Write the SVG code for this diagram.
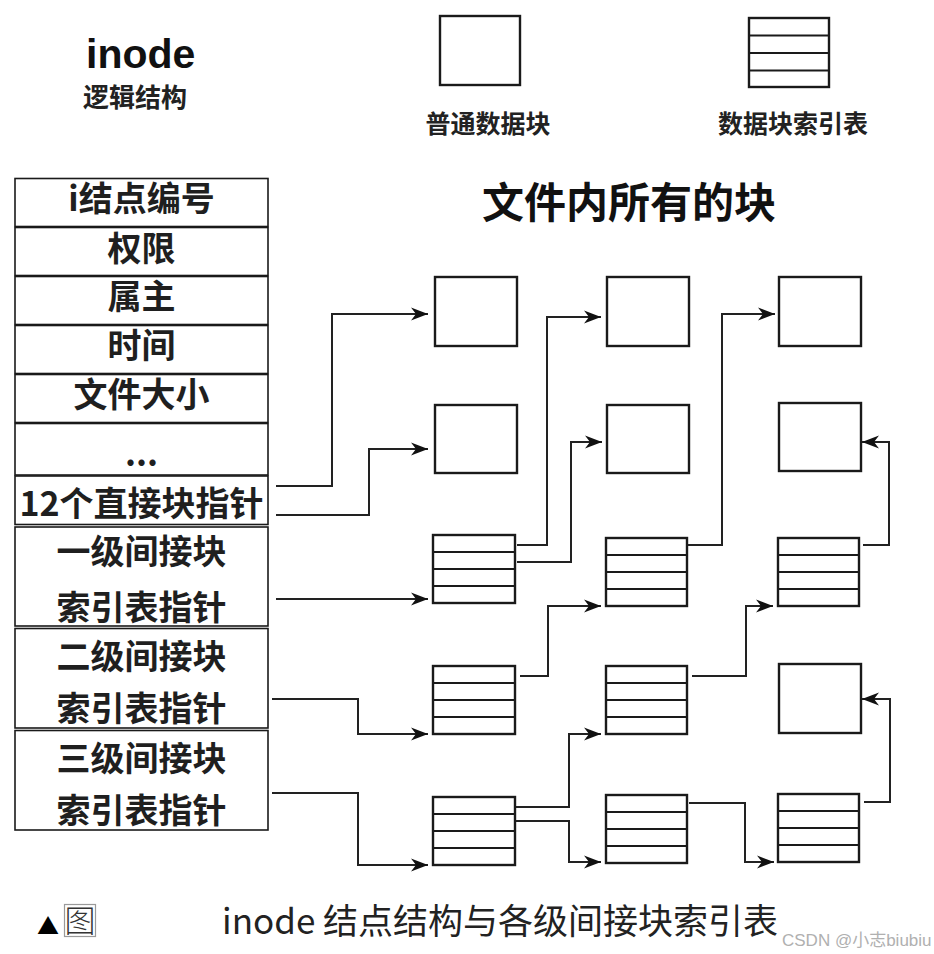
<svg xmlns="http://www.w3.org/2000/svg" width="934" height="954" viewBox="0 0 934 954">
<style>
.bg{fill:#fff}
.blk{fill:#fff;stroke:#1a1a1a;stroke-width:2.4}
.sep{stroke:#1a1a1a;stroke-width:2.2}
.cell{fill:#fff;stroke:#1a1a1a;stroke-width:1.6}
.cn{fill:none;stroke:#222;stroke-width:2;marker-end:url(#ah)}
.tt{font-family:"Noto Sans CJK SC","Liberation Sans",sans-serif;font-weight:700;fill:#1f1f1f;text-anchor:middle}
.lg{font-family:"Noto Sans CJK SC",sans-serif;font-weight:700;font-size:25px;fill:#222;text-anchor:middle}
</style>
<defs>
<marker id="ah" markerUnits="userSpaceOnUse" markerWidth="18" markerHeight="14" refX="17" refY="7" orient="auto">
<path d="M0,0.5 L17,7 L0,13.5 L5,7 Z" fill="#111"/>
</marker>
</defs>
<rect class="bg" x="0" y="0" width="934" height="954"/>

<g id="header">
<text x="86" y="68" style="font-family:'Liberation Sans','Noto Sans CJK SC',sans-serif;font-weight:700;font-size:41px;fill:#111">inode</text>
<text x="83" y="107" style="font-family:'Noto Sans CJK SC',sans-serif;font-weight:700;font-size:26px;fill:#222">逻辑结构</text>
</g>

<g id="legend-data-block">
<rect class="blk" x="440" y="16" width="80" height="69"/>
<text class="lg" x="488" y="133">普通数据块</text>
</g>
<g id="legend-index-table">
<rect class="blk" x="749" y="18" width="80" height="69"/>
<line class="sep" x1="749" y1="35.5" x2="829" y2="35.5"/>
<line class="sep" x1="749" y1="53" x2="829" y2="53"/>
<line class="sep" x1="749" y1="70.5" x2="829" y2="70.5"/>
<text class="lg" x="793" y="133">数据块索引表</text>
</g>

<g id="title">
<text x="629" y="218" style="font-family:'Noto Sans CJK SC',sans-serif;font-weight:700;font-size:42px;fill:#111;text-anchor:middle">文件内所有的块</text>
</g>

<g id="inode-table">
<g id="row-inode-number"><rect class="cell" x="15" y="178.5" width="253" height="48"/><text class="tt" x="141.5" y="211" font-size="34">i结点编号</text></g>
<g id="row-permission"><rect class="cell" x="15" y="227.5" width="253" height="48"/><text class="tt" x="141.5" y="260.5" font-size="34">权限</text></g>
<g id="row-owner"><rect class="cell" x="15" y="276.5" width="253" height="48"/><text class="tt" x="141.5" y="309" font-size="34">属主</text></g>
<g id="row-time"><rect class="cell" x="15" y="325.5" width="253" height="48"/><text class="tt" x="141.5" y="357.5" font-size="34">时间</text></g>
<g id="row-size"><rect class="cell" x="15" y="374.5" width="253" height="48"/><text class="tt" x="141.5" y="407" font-size="34">文件大小</text></g>
<g id="row-etc"><rect class="cell" x="15" y="423.5" width="253" height="51.5"/><text class="tt" x="141.5" y="466" font-size="34">...</text></g>
<g id="row-direct"><rect class="cell" x="15" y="476" width="253" height="48.5"/><text class="tt" x="141.5" y="515.5" font-size="34">12个直接块指针</text></g>
<g id="row-single"><rect class="cell" x="15" y="527" width="253" height="99"/><text class="tt" x="141.5" y="564" font-size="34">一级间接块</text><text class="tt" x="141.5" y="620" font-size="34">索引表指针</text></g>
<g id="row-double"><rect class="cell" x="15" y="628.5" width="253" height="99.5"/><text class="tt" x="141.5" y="669" font-size="34">二级间接块</text><text class="tt" x="141.5" y="721" font-size="34">索引表指针</text></g>
<g id="row-triple"><rect class="cell" x="15" y="730.5" width="253" height="99.5"/><text class="tt" x="141.5" y="770.5" font-size="34">三级间接块</text><text class="tt" x="141.5" y="823" font-size="34">索引表指针</text></g>
</g>

<g id="b11"><rect class="blk" x="435" y="277" width="82" height="69"/></g>
<g id="b12"><rect class="blk" x="435" y="405" width="82" height="68"/></g>
<g id="t13"><rect class="blk" x="433" y="535" width="82" height="68"/><line class="sep" x1="433" y1="552" x2="515" y2="552"/><line class="sep" x1="433" y1="569" x2="515" y2="569"/><line class="sep" x1="433" y1="586" x2="515" y2="586"/></g>
<g id="t14"><rect class="blk" x="433" y="666" width="82" height="68"/><line class="sep" x1="433" y1="683" x2="515" y2="683"/><line class="sep" x1="433" y1="700" x2="515" y2="700"/><line class="sep" x1="433" y1="717" x2="515" y2="717"/></g>
<g id="t15"><rect class="blk" x="433" y="797" width="82" height="68"/><line class="sep" x1="433" y1="814" x2="515" y2="814"/><line class="sep" x1="433" y1="831" x2="515" y2="831"/><line class="sep" x1="433" y1="848" x2="515" y2="848"/></g>

<g id="b21"><rect class="blk" x="607" y="277" width="82" height="69"/></g>
<g id="b22"><rect class="blk" x="607" y="405" width="82" height="68"/></g>
<g id="t23"><rect class="blk" x="606" y="538" width="81" height="68"/><line class="sep" x1="606" y1="555" x2="687" y2="555"/><line class="sep" x1="606" y1="572" x2="687" y2="572"/><line class="sep" x1="606" y1="589" x2="687" y2="589"/></g>
<g id="t24"><rect class="blk" x="606" y="666" width="81" height="68"/><line class="sep" x1="606" y1="683" x2="687" y2="683"/><line class="sep" x1="606" y1="700" x2="687" y2="700"/><line class="sep" x1="606" y1="717" x2="687" y2="717"/></g>
<g id="t25"><rect class="blk" x="606" y="795" width="81" height="68"/><line class="sep" x1="606" y1="812" x2="687" y2="812"/><line class="sep" x1="606" y1="829" x2="687" y2="829"/><line class="sep" x1="606" y1="846" x2="687" y2="846"/></g>

<g id="b31"><rect class="blk" x="779" y="277" width="82" height="69"/></g>
<g id="b32"><rect class="blk" x="779" y="403" width="82" height="68"/></g>
<g id="t33"><rect class="blk" x="778" y="538" width="81" height="68"/><line class="sep" x1="778" y1="555" x2="859" y2="555"/><line class="sep" x1="778" y1="572" x2="859" y2="572"/><line class="sep" x1="778" y1="589" x2="859" y2="589"/></g>
<g id="b34"><rect class="blk" x="779" y="664" width="82" height="69"/></g>
<g id="t35"><rect class="blk" x="778" y="794" width="81" height="68"/><line class="sep" x1="778" y1="811" x2="859" y2="811"/><line class="sep" x1="778" y1="828" x2="859" y2="828"/><line class="sep" x1="778" y1="845" x2="859" y2="845"/></g>

<g id="connectors">
<path class="cn" d="M276,486 H332 V314 H428"/>
<path class="cn" d="M276,515 H369 V449 H428"/>
<path class="cn" d="M276,599 H428"/>
<path class="cn" d="M517,545 H547 V317 H601"/>
<path class="cn" d="M517,562 H571 V442 H602"/>
<path class="cn" d="M688,545 H722 V314 H775"/>
<path class="cn" d="M863,545 H889 V442 H862"/>
<path class="cn" d="M520,676 H548 V606 H601"/>
<path class="cn" d="M692,676 H746 V606 H773"/>
<path class="cn" d="M272,699 H358 V734 H428"/>
<path class="cn" d="M272,793 H358 V865 H428"/>
<path class="cn" d="M516,807 H569 V734 H601"/>
<path class="cn" d="M516,821 H569 V862 H601"/>
<path class="cn" d="M689,803 H745 V862 H774"/>
<path class="cn" d="M864,802 H890 V699 H862"/>
</g>

<g id="caption">
<text x="48" y="934" style="font-family:'Noto Sans CJK SC',sans-serif;font-size:22px;fill:#000;text-anchor:middle">▲</text>
<rect x="64.5" y="904.5" width="31" height="32" fill="none" stroke="#9a9a9a" stroke-width="1.2"/>
<text x="80" y="932" style="font-family:'Noto Sans CJK SC',sans-serif;font-weight:300;font-size:31px;fill:#333;text-anchor:middle">图</text>
<text x="222" y="934" style="font-family:'Noto Sans CJK SC',sans-serif;font-weight:400;font-size:35px;fill:#222">inode 结点结构与各级间接块索引表</text>
<text x="782" y="946" style="font-family:'Liberation Sans','Noto Sans CJK SC',sans-serif;font-size:17px;fill:#b0b0b0">CSDN @小志biubiu</text>
</g>
</svg>
